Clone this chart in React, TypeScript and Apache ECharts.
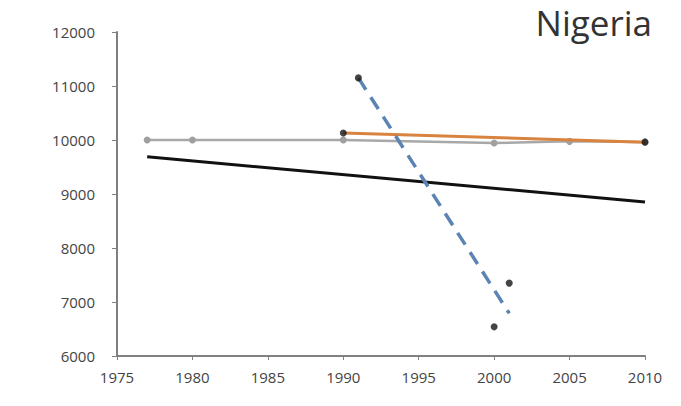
import React, { useEffect, useRef } from "react";
import * as echarts from "echarts";

const xTicks = [1975, 1980, 1985, 1990, 1995, 2000, 2005, 2010];
const yTicks = [6000, 7000, 8000, 9000, 10000, 11000, 12000];

const grayYears = [1977, 1980, 1990, 2000, 2005, 2010];
const grayValues = [10000, 10000, 10000, 9945, 9975, 9965];

const orangeYears = [1990, 2010];
const orangeValues = [10130, 9960];

const blackTrendYears = [1977, 2010];
const blackTrendValues = [9690, 8850];

const blueYears = [1991, 2001];
const blueValues = [11150, 6790];

const dotYears = [1991, 2000, 2001, 1990, 2010];
const dotValues = [11150, 6540, 7350, 10130, 9960];

const zip = (xs: number[], ys: number[]) => xs.map((x, i) => [x, ys[i]]);

export default function App() {
  const ref = useRef<HTMLDivElement>(null);
  useEffect(() => {
    if (!ref.current) return;
    const chart = echarts.init(ref.current, null, { renderer: "svg" });
    const font = "Open Sans";
    chart.setOption({
      animation: false,
      backgroundColor: "#ffffff",
      title: {
        text: "Nigeria",
        right: 24,
        top: 0,
        textStyle: { fontFamily: font, fontSize: 35, fontWeight: "normal", color: "#333333" },
      },
      grid: { left: 117, right: 36, top: 32, bottom: 50 },
      xAxis: {
        type: "value",
        min: xTicks[0],
        max: xTicks[xTicks.length - 1],
        interval: 5,
        axisLine: { lineStyle: { color: "#808080", width: 2 } },
        axisTick: { show: true, length: 4, lineStyle: { color: "#808080" } },
        axisLabel: { margin: 13, fontFamily: font, fontSize: 15, color: "#444444", formatter: (v: number) => String(v) },
        splitLine: { show: false },
      },
      yAxis: {
        type: "value",
        min: yTicks[0],
        max: yTicks[yTicks.length - 1],
        interval: 1000,
        axisLine: { show: true, lineStyle: { color: "#808080", width: 2 } },
        axisTick: { show: true, length: 5, lineStyle: { color: "#808080" } },
        axisLabel: { margin: 22, fontFamily: font, fontSize: 15, color: "#444444", formatter: (v: number) => String(v) },
        splitLine: { show: false },
      },
      series: [
        {
          type: "line",
          data: zip(grayYears, grayValues),
          lineStyle: { color: "#a8a8a8", width: 2.5 },
          itemStyle: { color: "#a0a0a0" },
          symbol: "circle",
          symbolSize: 7,
          z: 2,
        },
        {
          type: "line",
          data: zip(orangeYears, orangeValues),
          lineStyle: { color: "#d8843f", width: 3 },
          symbol: "none",
          z: 3,
        },
        {
          type: "line",
          data: zip(blackTrendYears, blackTrendValues),
          lineStyle: { color: "#111111", width: 3 },
          symbol: "none",
          z: 3,
        },
        {
          type: "line",
          data: zip(blueYears, blueValues),
          lineStyle: { color: "#5b84b4", width: 3.5, type: [14, 9] },
          symbol: "none",
          z: 4,
        },
        {
          type: "scatter",
          data: zip(dotYears, dotValues),
          symbol: "circle",
          symbolSize: 7,
          itemStyle: { color: "#151515" },
          z: 5,
        },
      ],
    });
    return () => chart.dispose();
  }, []);
  return <div ref={ref} style={{ width: 681, height: 406, position: "absolute", left: 0, top: 0 }} />;
}
